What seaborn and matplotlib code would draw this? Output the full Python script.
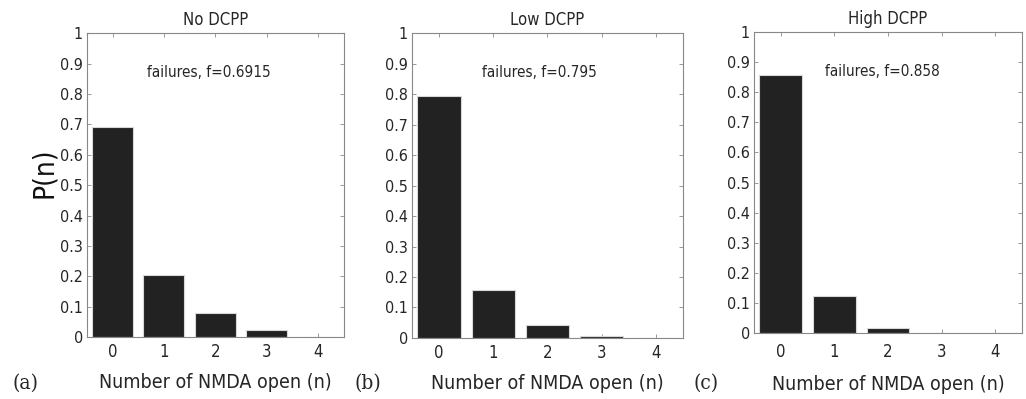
import matplotlib
matplotlib.use("Agg")
import matplotlib.pyplot as plt
import matplotlib.transforms as mtransforms
import seaborn as sns
import pandas as pd
from matplotlib import font_manager

n_open = [0, 1, 2, 3, 4]
p_no = [0.6915, 0.205, 0.079, 0.022, 0.002]
p_low = [0.795, 0.157, 0.043, 0.005, 0.001]
p_high = [0.858, 0.122, 0.018, 0.002, 0.0005]
titles = ["No DCPP", "Low DCPP", "High DCPP"]
notes = ["failures, f=0.6915", "failures, f=0.795", "failures, f=0.858"]
panel_tags = ["(a)", "(b)", "(c)"]
yticks = [0, 0.1, 0.2, 0.3, 0.4, 0.5, 0.6, 0.7, 0.8, 0.9, 1]
ytick_labels = ["0", "0.1", "0.2", "0.3", "0.4", "0.5", "0.6", "0.7", "0.8", "0.9", "1"]

sns.set_theme(style="white")
names = {f.name for f in font_manager.fontManager.ttflist}
narrow = "Liberation Sans Narrow" if "Liberation Sans Narrow" in names else "DejaVu Sans"
plt.rcParams['font.family'] = [narrow, 'DejaVu Sans']
plt.rcParams['font.stretch'] = 'condensed'

fig = plt.figure(figsize=(10.26, 3.99), dpi=100)
positions = [
    [0.0848, 0.155, 0.250, 0.762],
    [0.4016, 0.153, 0.264, 0.764],
    [0.735, 0.165, 0.261, 0.755],
]
series = [p_no, p_low, p_high]
tag_x = [0.012, 0.346, 0.676]
note_x = [0.476, 0.472, 0.48]
xpad = [4, 4, 7]
xlabelpad = [9, 9, 10]

for i in range(3):
    ax = fig.add_axes(positions[i])
    df = pd.DataFrame({"n": n_open, "p": series[i]})
    sns.barplot(data=df, x="n", y="p", ax=ax, color="#222222", saturation=1,
                edgecolor="#d8d8d8", linewidth=0.8, width=0.8)
    ax.set_xlim(-0.5, 4.5)
    ax.set_ylim(0, 1)
    ax.set_yticks(yticks)
    ax.set_yticklabels(ytick_labels, fontsize=11.5, fontstretch='condensed')
    ax.set_xticks(n_open)
    ax.set_xticklabels([str(v) for v in n_open], fontsize=12, fontstretch='condensed')
    ax.tick_params(axis="both", direction="in", length=3, width=0.6, color="#888888",
                   top=True, right=True, bottom=True, left=True)
    ax.tick_params(axis="y", pad=3)
    ax.tick_params(axis="x", pad=xpad[i])
    for s in ax.spines.values():
        s.set_color("#888888")
        s.set_linewidth(0.8)
        s.set_visible(True)
    ax.set_title(titles[i], fontsize=12, pad=6, fontstretch='condensed')
    ax.set_xlabel("Number of NMDA open (n)", fontsize=14, labelpad=xlabelpad[i],
                  fontstretch='condensed')
    if i == 0:
        ax.set_ylabel("P(n)", fontsize=20, family="DejaVu Sans", color="#111111")
        ax.yaxis.set_label_coords(-0.115, 0.54)
    else:
        ax.set_ylabel("")
    trans = mtransforms.blended_transform_factory(ax.transAxes, ax.transData)
    ax.text(note_x[i], 0.87, notes[i], transform=trans,
            ha="center", va="center", fontsize=11, fontstretch='condensed')
    fig.text(tag_x[i], 0.04, panel_tags[i], fontsize=15, family="DejaVu Serif",
             ha="left", va="center")

fig.savefig("out.png", dpi=100)
